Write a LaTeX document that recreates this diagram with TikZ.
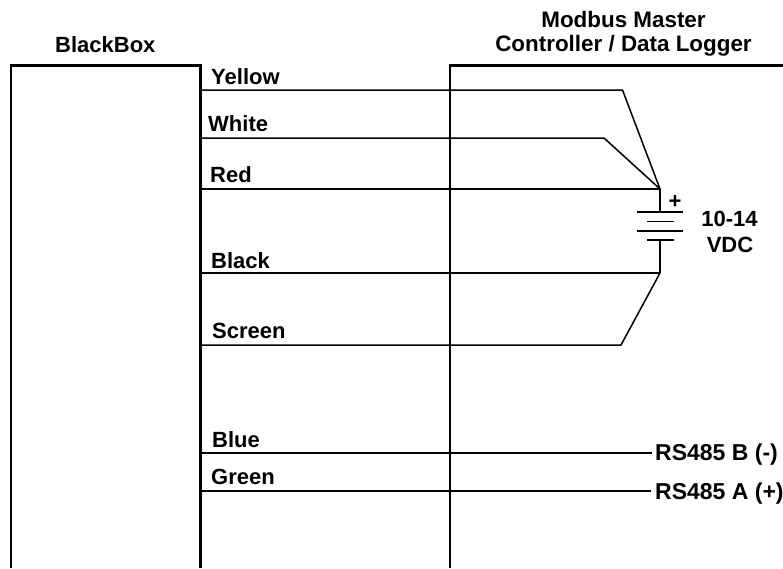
\documentclass[tikz,border=0pt]{standalone}
\usepackage{fontspec}
\setmainfont{Liberation Sans}
\tikzset{lab/.style={font=\bfseries\fontsize{22}{24}\selectfont,inner sep=0pt,anchor=base west},
head/.style={font=\bfseries\fontsize{22.4}{24}\selectfont,inner sep=0pt,anchor=base},
rs/.style={font=\bfseries\fontsize{23}{25}\selectfont,inner sep=0pt,anchor=base west},
wire/.style={line width=1.5pt,line join=round},
frame/.style={line width=2.2pt,line join=miter}}
\begin{document}
\begin{tikzpicture}[x=1pt,y=-1pt]
\useasboundingbox (0,0) rectangle (783,568);
\draw[frame] (11,568) -- (11,65.5) -- (200.5,65.5) -- (200.5,568);
\draw[frame] (783,65.5) -- (450,65.5) -- (450,568);
\node[lab] (bb) at (55,52) {BlackBox};
\node[head] (mm) at (623.5,27) {Modbus Master};
\node[head] (cd) at (623.5,51) {Controller / Data Logger};
\node[lab] (y) at (211,84) {Yellow};
\node[lab] (w) at (208,131) {White};
\node[lab] (r) at (210,182) {Red};
\node[lab] (k) at (211,268) {Black};
\node[lab] (s) at (212,338) {Screen};
\node[lab] (bl) at (212,447) {Blue};
\node[lab] (g) at (211,484) {Green};
\node[rs] (a) at (655,460) {RS485 B (-)};
\node[rs] (b) at (655,499) {RS485 A (+)};
\node[lab,anchor=base] (v1) at (729.5,226) {10-14};
\node[lab,anchor=base] (v2) at (730,252) {VDC};
\node[lab,anchor=base] (p) at (675,208) {+};
\coordinate (top) at (660,189);
\coordinate (bot) at (660,273);
\draw[wire] (200.5,90) -- (622.5,90) -- (top);
\draw[wire] (200.5,138) -- (604,138) -- (top);
\draw[wire] (200.5,189) -- (top) -- (660,212);
\draw[wire] (200.5,273) -- (bot) -- (660,240);
\draw[wire] (200.5,345) -- (621,345) -- (bot);
\draw[wire] (200.5,453) -- (652,453);
\draw[wire] (200.5,491) -- (651,491);
\draw[wire] (637,212) -- (683,212);
\draw[wire] (647,221.5) -- (674,221.5);
\draw[wire] (637,231) -- (683,231);
\draw[wire] (647,240) -- (674,240);
\end{tikzpicture}
\end{document}
